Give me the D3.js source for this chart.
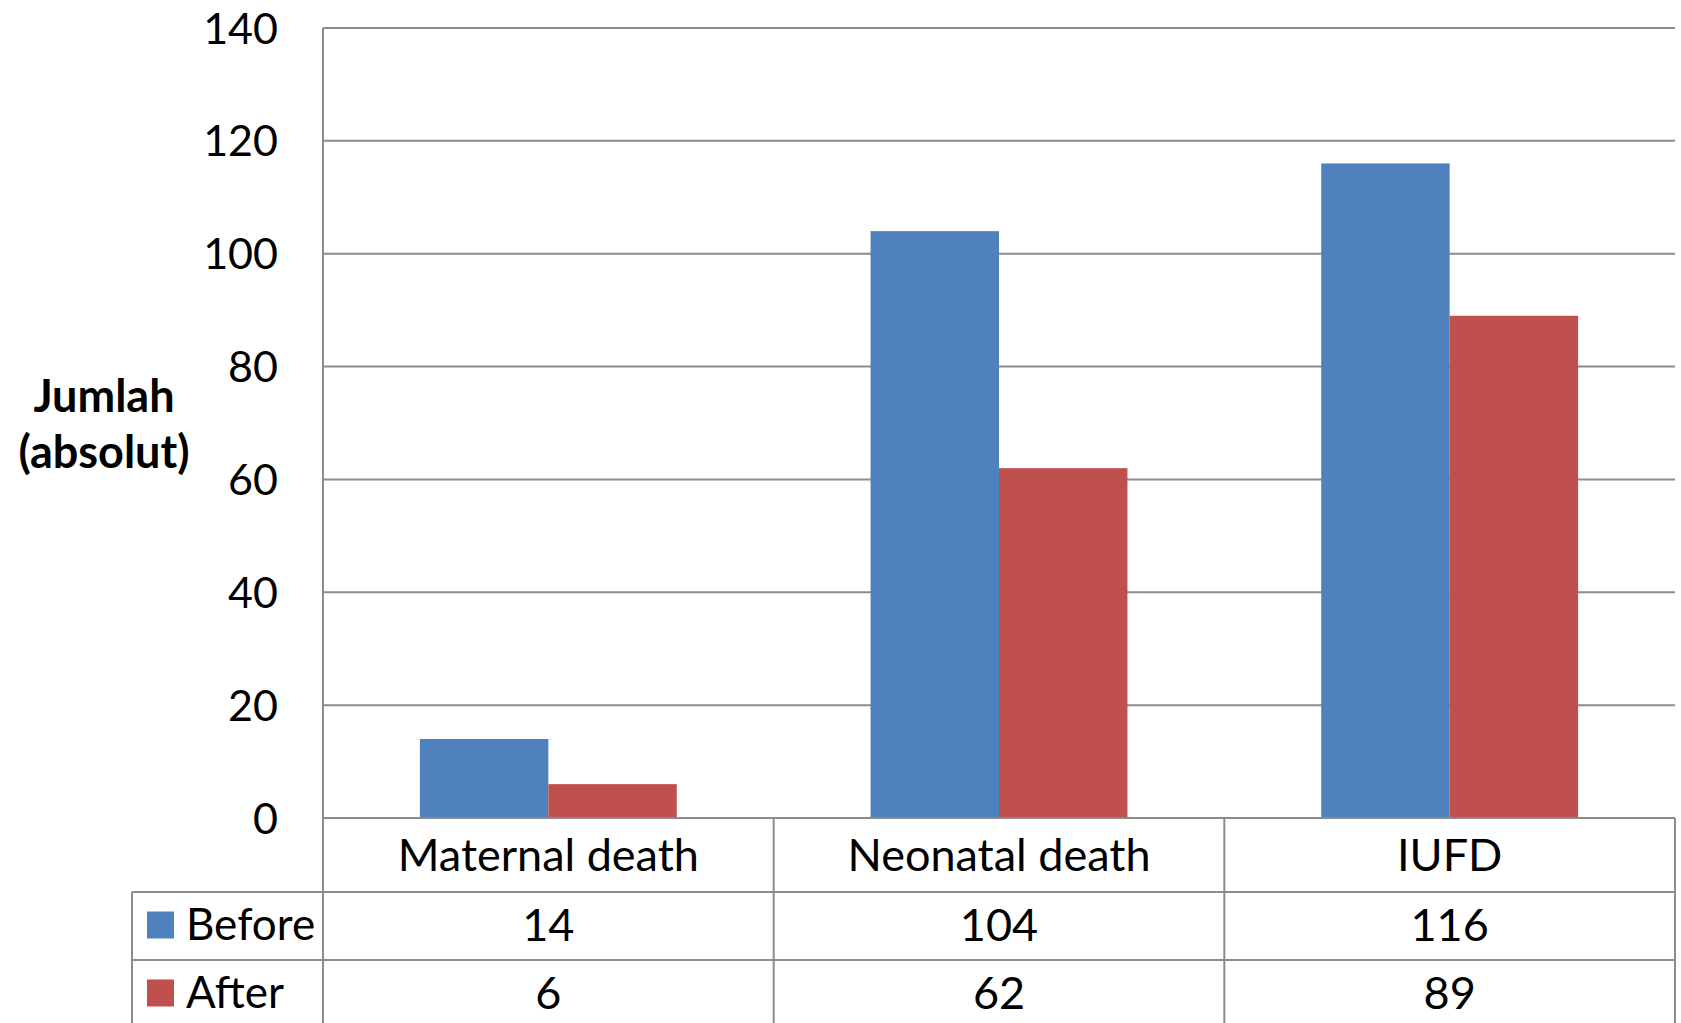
<!DOCTYPE html>
<html>
<head>
<meta charset="utf-8">
<script src="https://cdn.jsdelivr.net/npm/d3@7"></script>
<style>
  html, body { margin: 0; padding: 0; background: #fff; }
  text { font-family: Lato, "Open Sans", sans-serif; fill: #000; }
</style>
</head>
<body>
<svg id="chart" width="1681" height="1023"></svg>
<script>
// data
var categories = ["Maternal death", "Neonatal death", "IUFD"];
var seriesNames = ["Before", "After"];
var beforeValues = [14, 104, 116];
var afterValues = [6, 62, 89];
var yTicks = [0, 20, 40, 60, 80, 100, 120, 140];
var seriesColors = ["#4f81bd", "#c0504d"];

var drawChart = function() {
  var svg = d3.select("#chart"),
      left = 323, right = 1675, plotTop = 28, plotBottom = 818,
      row1 = 892, row2 = 960, row3 = 1028,
      legendLeft = 132,
      fontSize = "45px",
      lineColor = "#8c8c8c";

  var x = d3.scaleBand()
            .domain(categories)
            .range([left, right])
            .paddingInner(0.43)
            .paddingOuter(0.215);

  var x1 = d3.scaleBand()
             .domain(seriesNames)
             .range([0, x.bandwidth()]);

  var y = d3.scaleLinear()
            .domain([0, 140])
            .range([plotBottom, plotTop]);

  var seriesData = seriesNames.map(function(name, i) {
    return { name: name, color: seriesColors[i], values: i == 0 ? beforeValues : afterValues };
  });

  // gridlines
  svg.append("g")
     .selectAll("line")
     .data(yTicks.slice(1))
     .enter()
     .append("line")
     .attr("x1", left).attr("x2", right)
     .attr("y1", function(d) { return y(d); })
     .attr("y2", function(d) { return y(d); })
     .attr("stroke", lineColor)
     .attr("stroke-width", 2);

  // y axis labels
  var yAxis = svg.append("g")
     .attr("transform", "translate(" + (left - 45) + ",0)")
     .call(d3.axisLeft(y).tickValues(yTicks).tickSize(0).tickPadding(0));
  yAxis.select(".domain").remove();
  yAxis.selectAll("text")
       .attr("text-anchor", "end")
       .attr("dy", "0.35em")
       .attr("fill", "#000")
       .style("font-family", "Lato, sans-serif")
       .style("font-size", "43px");

  // y axis title
  var title = svg.append("text")
     .attr("text-anchor", "middle")
     .style("font-weight", "bold")
     .style("font-size", "45px");
  title.append("tspan").attr("x", 104).attr("y", 412).text("Jumlah");
  title.append("tspan").attr("x", 104).attr("y", 468).text("(absolut)");

  // bars
  var groups = svg.selectAll(".series")
     .data(seriesData)
     .enter()
     .append("g")
     .attr("class", "series")
     .attr("fill", function(d) { return d.color; });

  groups.selectAll("rect")
     .data(function(s) {
       return s.values.map(function(v, i) { return { name: s.name, cat: categories[i], value: v }; });
     })
     .enter()
     .append("rect")
     .attr("x", function(d) { return x(d.cat) + x1(d.name); })
     .attr("width", x1.bandwidth())
     .attr("y", function(d) { return y(d.value); })
     .attr("height", function(d) { return y(0) - y(d.value); });

  // data table lines
  var step = x.step();
  var colEdges = d3.range(categories.length + 1).map(function(i) { return left + i * step; });

  var table = svg.append("g")
     .attr("stroke", lineColor)
     .attr("stroke-width", 2);

  table.append("line")
       .attr("x1", left).attr("x2", left).attr("y1", plotTop).attr("y2", row3);
  colEdges.slice(1).forEach(function(cx) {
    table.append("line").attr("x1", cx).attr("x2", cx).attr("y1", plotBottom).attr("y2", row3);
  });
  table.append("line")
       .attr("x1", left).attr("x2", right).attr("y1", plotBottom).attr("y2", plotBottom);
  [row1, row2].forEach(function(ry) {
    table.append("line").attr("x1", legendLeft).attr("x2", right).attr("y1", ry).attr("y2", ry);
  });
  table.append("line")
       .attr("x1", legendLeft).attr("x2", legendLeft).attr("y1", row1).attr("y2", row3);

  // category header
  svg.selectAll(".cat")
     .data(categories)
     .enter()
     .append("text")
     .attr("class", "cat")
     .attr("x", function(d) { return x(d) + x.bandwidth() / 2; })
     .attr("y", (plotBottom + row1) / 2)
     .attr("dy", "0.35em")
     .attr("text-anchor", "middle")
     .style("font-size", fontSize)
     .text(function(d) { return d; });

  // table rows
  var rowY = [row1, row2];
  seriesData.forEach(function(s, si) {
    var cy = rowY[si] + 33;

    svg.append("rect")
       .attr("x", 147).attr("y", cy - 13.5)
       .attr("width", 27).attr("height", 27)
       .attr("fill", s.color);

    svg.append("text")
       .attr("x", 186).attr("y", cy)
       .attr("dy", "0.35em")
       .style("font-size", "44px")
       .text(s.name);

    svg.selectAll(".val" + si)
       .data(s.values)
       .enter()
       .append("text")
       .attr("x", function(d, i) { return x(categories[i]) + x.bandwidth() / 2; })
       .attr("y", cy)
       .attr("dy", "0.35em")
       .attr("text-anchor", "middle")
       .style("font-size", fontSize)
       .text(function(d) { return d; });
  });
};

drawChart();
</script>
</body>
</html>
